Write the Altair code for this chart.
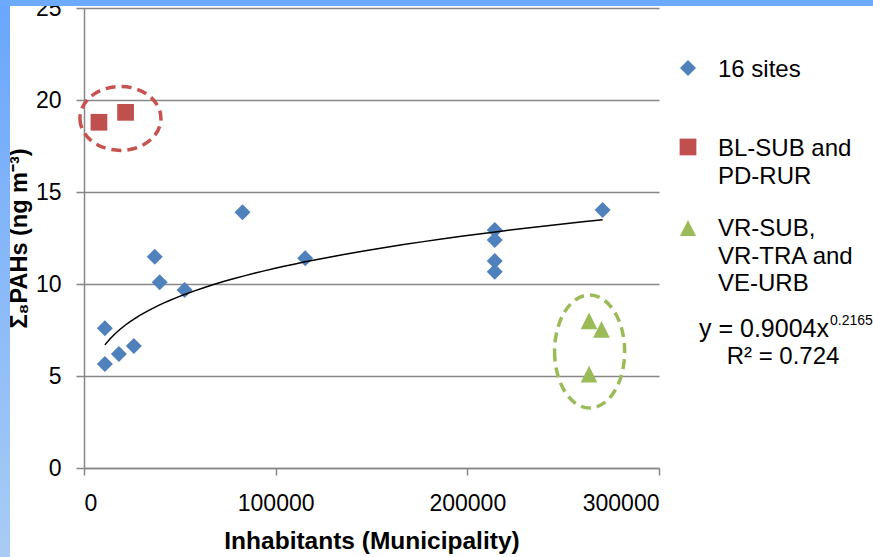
import altair as alt
import pandas as pd

# ---- data ----
site_x = [10900, 10900, 18200, 26000, 36900, 39500, 52500, 82700, 115400,
          214300, 214300, 214300, 214300, 270600]
site_y = [5.65, 7.59, 6.2, 6.63, 11.48, 10.1, 9.67, 13.9, 11.4,
          12.93, 12.39, 11.25, 10.67, 14.02]
red_x = [7800, 21700]
red_y = [18.79, 19.33]
green_x = [263500, 270000, 263500]
green_y = [8.0, 7.54, 5.1]

# annotation ellipse centres (data units)
red_ell_x, red_ell_y = [19000], [19.0]
green_ell_x, green_ell_y = [263800], [6.33]

x_ticks = [0, 100000, 200000, 300000]
y_ticks = [0, 5, 10, 15, 20, 25]

legend_labels = ["16 sites", ["BL-SUB and", "PD-RUR"], ["VR-SUB,", "VR-TRA and", "VE-URB"]]
eq_main = "y = 0.9004x"
eq_exp = "0.2165"
eq_r2 = "R² = 0.724"

BLUE, RED, GREEN = "#4F81BD", "#C0504D", "#9BBB59"
GRAY = "#878787"
FONT = "Liberation Sans"

sites = pd.DataFrame({"x": site_x, "y": site_y})
reds = pd.DataFrame({"x": red_x, "y": red_y})
greens = pd.DataFrame({"x": green_x, "y": green_y})
red_ell = pd.DataFrame({"x": red_ell_x, "y": red_ell_y})
green_ell = pd.DataFrame({"x": green_ell_x, "y": green_ell_y})
one = pd.DataFrame({"k": [0]})

W, H = 575, 460
PAD = {"left": 84, "top": 8, "right": 214, "bottom": 89}

X = alt.X("x:Q", scale=alt.Scale(domain=[0, 300000], nice=False, zero=False),
          axis=alt.Axis(values=x_ticks, format="d", grid=False, tickSize=7,
                        labelPadding=17, title="Inhabitants (Municipality)",
                        titlePadding=14, titleFontSize=24.5))
Y = alt.Y("y:Q", scale=alt.Scale(domain=[0, 25], nice=False),
          axis=alt.Axis(values=y_ticks, grid=True, tickSize=8, labelPadding=15,
                        title="Σ₈PAHs  (ng m⁻³)", titlePadding=4, titleFontSize=23.5))

TRI = "M0,-1L1,1L-1,1Z"
ELL_RED = "M-1,0A1,0.79,0,1,0,1,0A1,0.79,0,1,0,-1,0Z"
ELL_GREEN = "M-0.62,0A0.62,1,0,1,0,0.62,0A0.62,1,0,1,0,-0.62,0Z"

pts_sites = alt.Chart(sites).mark_point(shape="diamond", filled=True, size=256,
                                        color=BLUE, opacity=1).encode(x=X, y=Y)
trend = alt.Chart(sites).transform_regression("x", "y", method="pow").mark_line(
    color="black", strokeWidth=1.5).encode(x=X, y=Y)
pts_red = alt.Chart(reds).mark_point(shape="square", filled=True, size=280,
                                     color=RED, opacity=1).encode(x=X, y=Y)
pts_green = alt.Chart(greens).mark_point(shape=TRI, filled=True, size=280,
                                         color=GREEN, opacity=1).encode(x=X, y=Y)
ell_red = alt.Chart(red_ell).mark_point(shape=ELL_RED, filled=False, size=6561,
                                        color="#C85250", strokeWidth=3.5,
                                        strokeDash=[10, 6], opacity=1).encode(x=X, y=Y)
ell_green = alt.Chart(green_ell).mark_point(shape=ELL_GREEN, filled=False, size=12770,
                                            color=GREEN, strokeWidth=3.5,
                                            strokeDash=[10, 6], opacity=1).encode(x=X, y=Y)

# decorative slide frame strips
grad_left = alt.LinearGradient(gradient="linear", x1=0, y1=0, x2=0, y2=1,
                               stops=[alt.GradientStop(offset=0, color="#6aa6fc"),
                                      alt.GradientStop(offset=1, color="#a8ccf5")])
strip_left = alt.Chart(one).mark_rect(color=grad_left).encode(
    x=alt.value(-84), x2=alt.value(-74), y=alt.value(-8), y2=alt.value(H + 89))
strip_top = alt.Chart(one).mark_rect(color="#6eaafc").encode(
    x=alt.value(-84), x2=alt.value(W + 214), y=alt.value(-8), y2=alt.value(-2))

# legend (manual)
lg_sym = []
for shape, col, size, yy in [("diamond", BLUE, 256, 60), ("square", RED, 280, 139),
                             (TRI, GREEN, 260, 220)]:
    lg_sym.append(alt.Chart(one).mark_point(shape=shape, filled=True, size=size,
                                            color=col, opacity=1).encode(
        x=alt.value(604), y=alt.value(yy)))
lg_txt = []
for lab, yy in zip(legend_labels, [69, 148, 228]):
    lg_txt.append(alt.Chart(one).mark_text(text=lab, align="left", baseline="alphabetic",
                                           fontSize=24, lineHeight=27.5, font=FONT,
                                           color="black").encode(
        x=alt.value(634), y=alt.value(yy)))

eq1 = alt.Chart(one).mark_text(text=eq_main, align="right", baseline="alphabetic",
                               fontSize=25, font=FONT, color="black").encode(
    x=alt.value(745), y=alt.value(329))
eq2 = alt.Chart(one).mark_text(text=eq_exp, align="left", baseline="alphabetic",
                               fontSize=14, font=FONT, color="black").encode(
    x=alt.value(746), y=alt.value(317))
eq3 = alt.Chart(one).mark_text(text=eq_r2, align="center", baseline="alphabetic",
                               fontSize=24, font=FONT, color="black").encode(
    x=alt.value(699), y=alt.value(356))

chart = alt.layer(
    pts_sites, trend, pts_red, pts_green, ell_red, ell_green,
    *lg_sym, *lg_txt, eq1, eq2, eq3, strip_left, strip_top
).properties(
    width=W, height=H, padding=PAD, background="white",
    autosize=alt.AutoSizeParams(type="none")
).configure_view(
    stroke=None
).configure_axis(
    domainColor=GRAY, domainWidth=1.5, tickColor=GRAY, tickWidth=1.5,
    gridColor=GRAY, gridWidth=1.5, labelFont=FONT, labelFontSize=23,
    labelColor="black", titleFont=FONT, titleFontWeight="bold",
    titleColor="black", zindex=0
)

chart.save("out.html", embed_options={"renderer": "svg", "actions": False})
